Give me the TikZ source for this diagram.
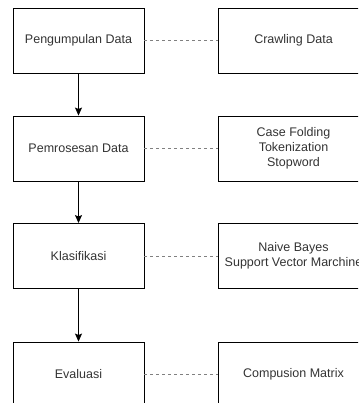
\documentclass[tikz,border=0pt]{standalone}
\usepackage{fontspec}
\setmainfont{Liberation Sans}
\usetikzlibrary{arrows.meta}

\begin{document}
\begin{tikzpicture}[x=1pt, y=-1pt,
    box/.style={draw, line width=0.9pt, minimum width=131pt, minimum height=65pt,
                inner sep=0pt, align=center, text=black!80,
                font=\fontsize{12.5}{15}\selectfont},
    detail/.style={box, minimum width=151pt},
    link/.style={gray, line width=0.8pt, dash pattern=on 3pt off 3pt},
    flow/.style={line width=0.9pt, -{Stealth[length=8pt, width=7pt, inset=1.5pt]}}]

   \useasboundingbox (0,0) rectangle (358,403);
   \clip (0,0) rectangle (358,403);

   \foreach [count=\i] \y/\t/\d in {40.5/Pengumpulan Data/Crawling Data,
        148.5/Pemrosesan Data/{Case Folding\\Tokenization\\Stopword},
        256/Klasifikasi/{Naive Bayes\\Support Vector Marchine},
        374.5/Evaluasi/Compusion Matrix}
   {
     \node [box] (p\i) at (78.5,\y) {\t};
     \node [detail] (d\i) at (293.5,\y) {\d};
     \draw [link] (p\i) -- (d\i);
   }

    \foreach \i/\j in {1/2, 2/3, 3/4}
        \draw [flow] (p\i) -- (p\j);

\end{tikzpicture}
\end{document}
